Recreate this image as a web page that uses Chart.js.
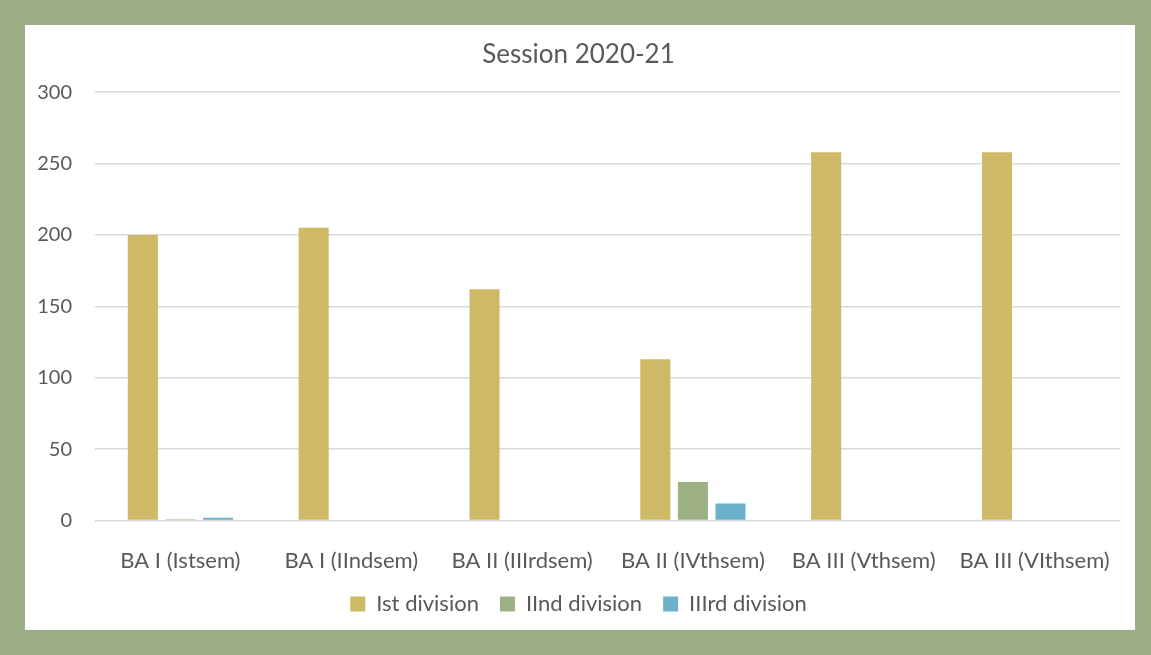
<!DOCTYPE html>
<html>
<head>
<meta charset="utf-8">
<script src="https://cdn.jsdelivr.net/npm/chart.js@4/dist/chart.umd.min.js"></script>
<style>
  html, body { margin: 0; padding: 0; background: #9caf84; }
  #cadre {
    position: absolute; left: 25px; top: 25px;
    width: 1110px; height: 605px; background: #ffffff;
  }
</style>
</head>
<body>
<div id="cadre"><canvas id="graphique"></canvas></div>
<script>
const categories = [
    "BA I (Istsem)",
    "BA I (IIndsem)",
    "BA II (IIIrdsem)",
    "BA II (IVthsem)",
    "BA III (Vthsem)",
    "BA III (VIthsem)"
];
const premiere = [200, 205, 162, 113, 258, 258];
const deuxieme = [1, 0, 0, 27, 0, 0];
const troisieme = [2, 0, 0, 12, 0, 0];

const police = "Lato, 'Open Sans', sans-serif";
const gris = "#595959";

new Chart(document.getElementById("graphique"), {
    type: "bar",
    data: {
        labels: categories,
        datasets: [
            { label: "Ist division", data: premiere, backgroundColor: "#ceb966" },
            { label: "IInd division", data: deuxieme, backgroundColor: "#9cb084" },
            { label: "IIIrd division", data: troisieme, backgroundColor: "#6bb1c9" }
        ]
    },
    options: {
        responsive: true,
        maintainAspectRatio: false,
        animation: false,
        categoryPercentage: 0.66,
        barPercentage: 0.8,
        layout: { padding: { left: 12, right: 15, top: 0, bottom: 5 } },
        plugins: {
            tooltip: { enabled: false },
            title: {
                display: true,
                text: "Session 2020-21",
                color: gris,
                font: { family: police, size: 26, weight: "normal" },
                padding: { top: 14, bottom: 22 }
            },
            legend: {
                position: "bottom",
                labels: {
                    color: gris,
                    font: { family: police, size: 22 },
                    boxWidth: 15,
                    boxHeight: 15,
                    padding: 21
                }
            }
        },
        scales: {
            x: {
                grid: { display: false },
                border: { display: false },
                ticks: {
                    color: gris,
                    font: { family: police, size: 22 },
                    padding: 19,
                    maxRotation: 0
                },
                afterFit: (s) => { s.height -= 21; }
            },
            y: {
                min: 0,
                max: 300,
                grid: { color: "#d9d9d9", lineWidth: 1.5, drawTicks: false },
                border: { display: false },
                ticks: {
                    stepSize: 50,
                    color: gris,
                    font: { family: police, size: 20 },
                    padding: 23
                },
                afterFit: (s) => { s.width = 58; }
            }
        }
    }
});
</script>
</body>
</html>
